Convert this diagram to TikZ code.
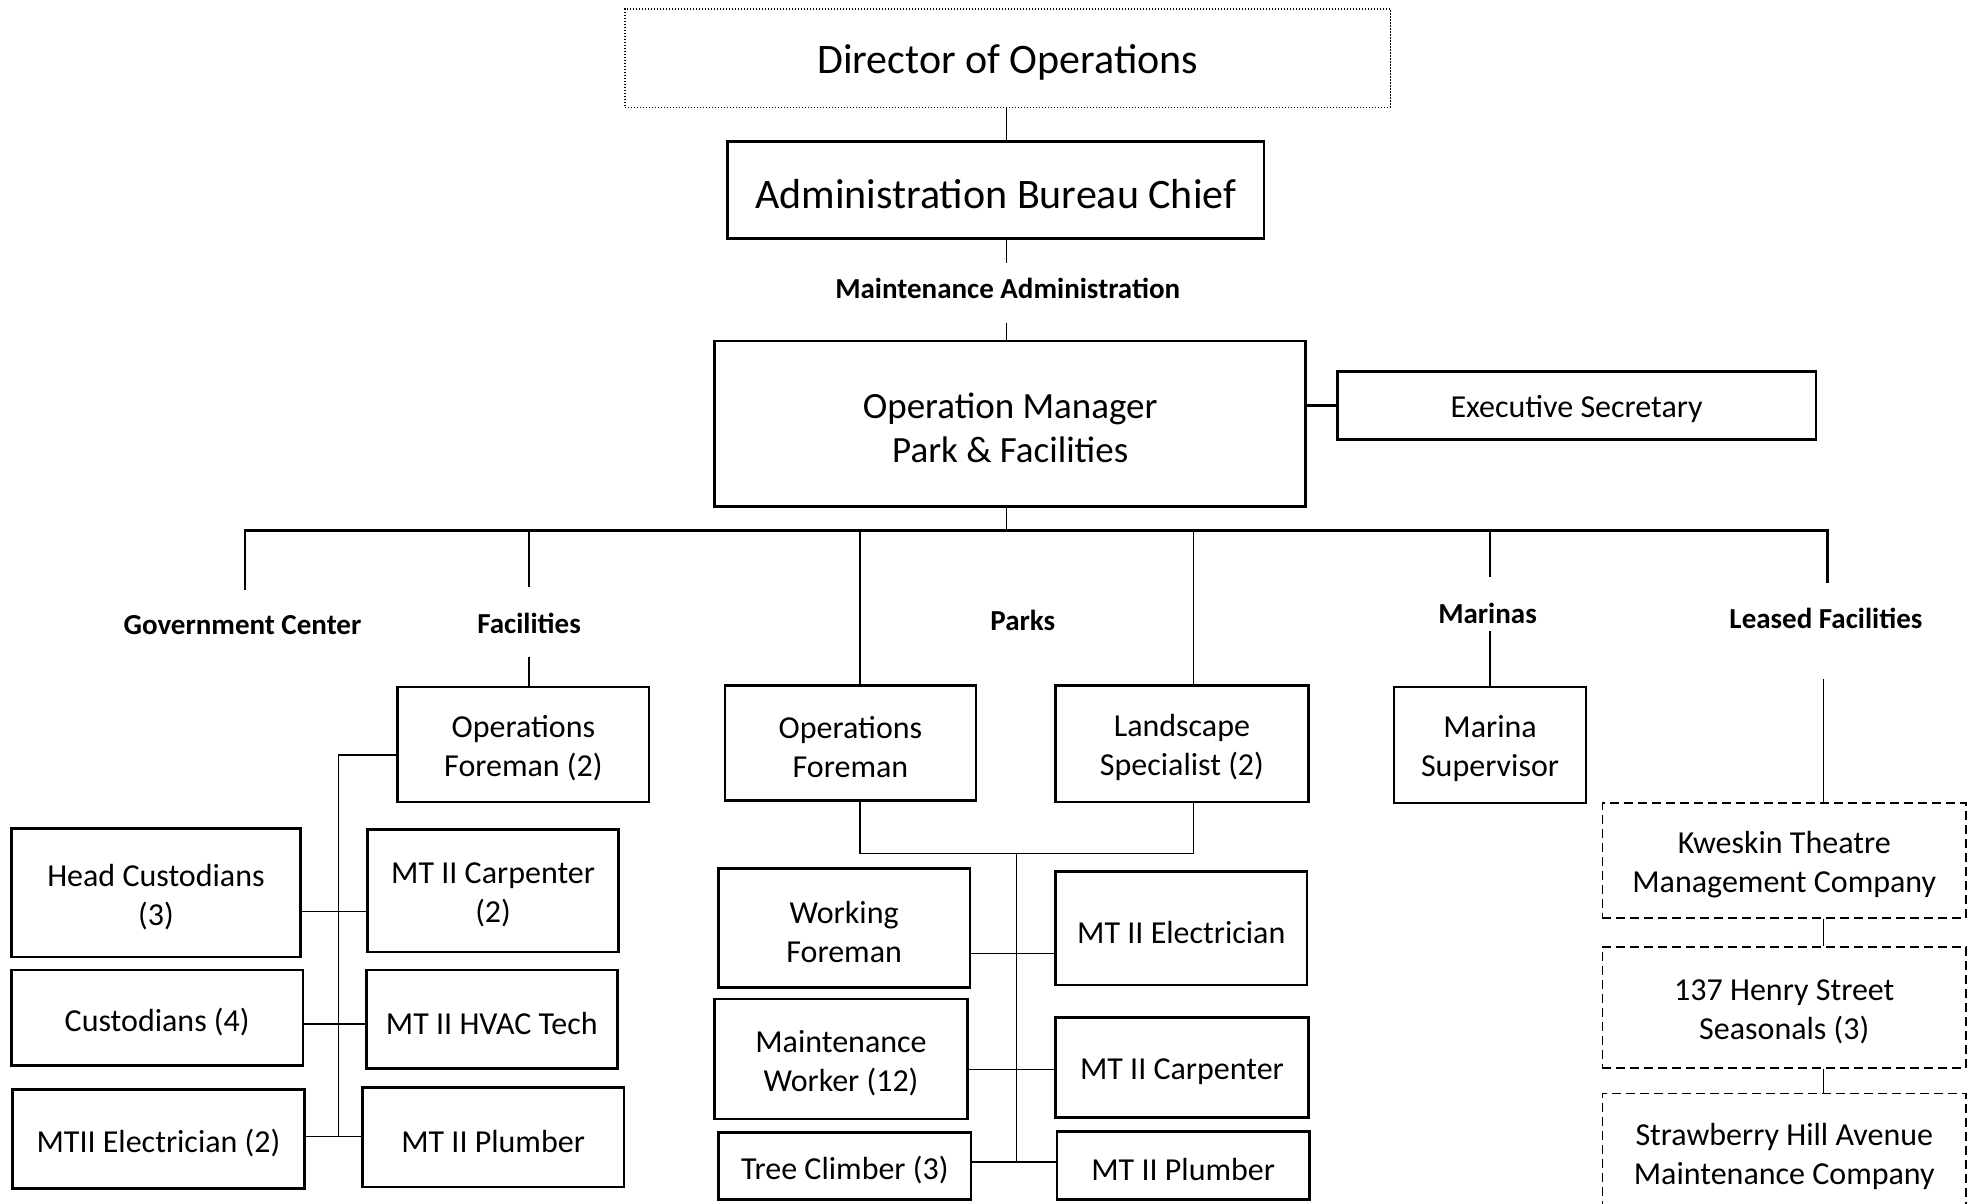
\documentclass[tikz,border=0pt]{standalone}
\usepackage{fontspec}
\setmainfont{Carlito}
% box from corner (x1,y1) to (x2,y2); y grows downwards; the text sits a little low
\newcommand\orgbox[7][box]{%
  \node[#1, minimum width={(#5-#3)*1.2628pt}, minimum height={(#6-#4)*1.2628pt}]
    (#2) at ({(#3+#5)/2},{(#4+#6)/2}) {};
  \node[#1, draw=none, minimum width=0pt, minimum height=0pt, yshift=-4pt]
    (#2-t) at (#2.center) {#7};}
\begin{document}
\begin{tikzpicture}[x=1.2628pt,y=-1.2628pt,
  box/.style={draw, line width=2.6pt, align=center, inner sep=0pt,
    font=\fontsize{32}{39}\selectfont},
  bigbox/.style={box, font=\fontsize{42}{50}\selectfont},
  dotbox/.style={bigbox, line width=1.5pt, dash pattern=on 1.3pt off 1.7pt},
  mgrbox/.style={box, font=\fontsize{37}{44}\selectfont},
  dashbox/.style={box, line width=1.8pt, dash pattern=on 9pt off 5pt},
  lbl/.style={inner sep=0pt, font=\fontsize{29}{34}\selectfont\bfseries},
  link/.style={line width=1.8pt},
  thinlink/.style={line width=1.5pt},
  heavylink/.style={line width=2.6pt}]
\clip (0,0) rectangle (1568,953.4);
\fill[white] (0,0) rectangle (1568,953.4);

% top of the hierarchy
\orgbox[dotbox]{dir}{495}{7}{1101}{85}{Director of Operations}
\orgbox[bigbox]{adm}{576}{112}{1001}{189}{Administration Bureau Chief}
\node[lbl] (ma) at (798,228) {Maintenance Administration};
\orgbox[mgrbox]{om}{566}{270}{1034}{401}{Operation Manager\\Park \& Facilities}
\orgbox{es}{1059}{294}{1438}{348}{Executive Secretary}

\coordinate (spine) at (797,0);
\draw[link] (dir.south -| spine) -- (adm.north -| spine);
\coordinate (maTop) at (797,208);
\coordinate (maBot) at (797,256);
\draw[link] (adm.south -| spine) -- (maTop);
\draw[link] (maBot) -- (om.north -| spine);
\draw[heavylink] (om.east |- es.west) -- (es.west);

% division bus
\coordinate (busL) at (194,420);
\coordinate (busR) at (1447,420);
\coordinate (pk1) at (681,420);
\coordinate (pk2) at (945,420);
\coordinate (fc1) at (419,420);
\coordinate (mr1) at (1180,420);
\draw[link] (om.south -| spine) -- (spine |- busL);
\draw[heavylink] (194,467) coordinate (gcDrop) -- (busL) -- (busR) -- (1447,462) coordinate (leDrop);
\draw[link] (fc1) -- (419,465) coordinate (fcDrop);
\draw[link] (mr1) -- (1180,457) coordinate (mrDrop);

% division labels
\node[lbl] (gc) at (192,495) {Government Center};
\node[lbl] (fac) at (419,494) {Facilities};
\node[lbl] (parks) at (810,491) {Parks};
\node[lbl] (mar) at (1178,486) {Marinas};
\node[lbl] (lea) at (1446,490) {Leased Facilities};

% Facilities
\orgbox{fof}{315}{544}{514}{635}{Operations\\Foreman (2)}
\orgbox{hc}{9}{656}{238}{758}{Head Custodians\\(3)}
\orgbox{mtc}{291}{657}{490}{754}{MT II Carpenter\\(2)}
\orgbox{cu}{9}{768}{240}{844}{Custodians (4)}
\orgbox{hv}{290}{768}{489}{846}{MT II HVAC Tech}
\orgbox{el}{10}{863}{241}{941}{MTII Electrician (2)}
\orgbox{pl}{287}{861}{494}{940}{MT II Plumber}

\coordinate (fcLo) at (419,520);
\draw[link] (fcLo) -- (fcLo |- fof.north);
\coordinate (fTop) at (268,598);
\coordinate (fBot) at (268,900);
\draw[thinlink] (fof.west |- fTop) -- (fTop) -- (fBot);
\coordinate (fr1) at (268,722);
\coordinate (fr2) at (268,811);
\draw[thinlink] (hc.east |- fr1) -- (mtc.west |- fr1);
\draw[thinlink] (cu.east |- fr2) -- (hv.west |- fr2);
\draw[link] (el.east |- fBot) -- (pl.west |- fBot);

% Parks
\orgbox{pof}{574}{543}{773}{634}{Operations\\Foreman}
\orgbox{ls}{836}{543}{1036}{635}{Landscape\\Specialist (2)}
\orgbox{wf}{569}{688}{768}{782}{Working\\Foreman}
\orgbox{pe}{836}{690}{1035}{780}{MT II Electrician}
\orgbox{mw}{566}{791}{766}{886}{Maintenance\\Worker (12)}
\orgbox{pc}{836}{806}{1036}{885}{MT II Carpenter}
\orgbox{tc}{569}{897}{769}{950}{Tree Climber (3)}
\orgbox{pp}{837}{896}{1037}{950}{MT II Plumber}

\draw[thinlink] (pk1) -- (pk1 |- pof.north);
\draw[thinlink] (pk2) -- (pk2 |- ls.north);
\coordinate (pJoin) at (805,676);
\coordinate (pBot) at (805,920);
\draw[thinlink] (pof.south -| pk1) -- (pk1 |- pJoin) -- (pk2 |- pJoin) -- (ls.south -| pk2);
\draw[thinlink] (pJoin) -- (pBot);
\coordinate (pr1) at (805,755);
\coordinate (pr2) at (805,847);
\draw[thinlink] (wf.east |- pr1) -- (pe.west |- pr1);
\draw[link] (mw.east |- pr2) -- (pc.west |- pr2);
\draw[link] (tc.east |- pBot) -- (pp.west |- pBot);

% Marinas
\orgbox{ms}{1104}{544}{1256}{636}{Marina\\Supervisor}
\coordinate (mrLo) at (1180,500);
\draw[link] (mrLo) -- (ms.north);

% Leased Facilities
\orgbox[dashbox]{kw}{1269}{636}{1557}{727}{Kweskin Theatre\\Management Company}
\orgbox[dashbox]{hs}{1269}{750}{1557}{846}{137 Henry Street\\Seasonals (3)}
\orgbox[dashbox]{sh}{1269}{866}{1557}{959}{Strawberry Hill Avenue\\Maintenance Company}
\coordinate (leLo) at (1444,538);
\draw[link] (leLo) -- (leLo |- kw.north);
\draw[link] (kw.south -| leLo) -- (hs.north -| leLo);
\draw[link] (hs.south -| leLo) -- (sh.north -| leLo);
\end{tikzpicture}
\end{document}
